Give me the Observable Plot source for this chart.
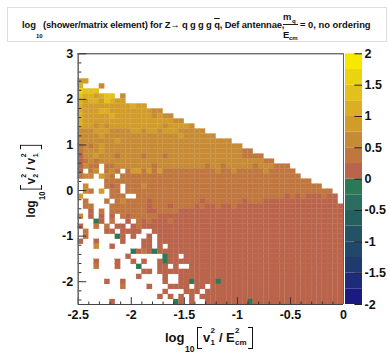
<!DOCTYPE html>
<html>
<head>
<meta charset="utf-8">
<script src="https://cdn.jsdelivr.net/npm/d3@7"></script>
<script src="https://cdn.jsdelivr.net/npm/@observablehq/plot@0.6"></script>
<style>
html,body{margin:0;padding:0;background:#fff}
#root{position:relative;width:390px;height:358px;overflow:hidden;font-family:"Liberation Sans",Arial,sans-serif;font-weight:bold;color:#111}
#root>div.plot{position:absolute;left:0;top:0}
.t{position:absolute;white-space:nowrap;line-height:1}
svg text{font-family:"Liberation Sans",Arial,sans-serif;font-weight:bold}
</style>
</head>
<body>
<div id="root"></div>
<script>
// log10(shower/matrix element): one string per y bin, top to bottom, 50 x bins
// '.' empty, 'g' = -0.25..0, '0'..'7' = the eight colour bands from 0 to 2
const rows = [
 "", "", "", "", "",
 "33",
 "4...2",
 "6555",
 "5443455.2",
 "434435433",
 "4333333333 433",
 "4333443333 333322",
 "4333334333 33332322",
 "4333333333 3333333322",
 "4332323333 3333332333 32",
 "2223332222 3323323332 2222",
 "2222322222 2222222223 222222",
 "2222222322 2222222222 222222222",
 "1212322222 2222222222 2222222222 2",
 "1222322222 2222222222 2222222222 211",
 "0223222122 2212221222 2222222222 21111",
 "0121222222 2222222222 2222222222 2222211",
 "0211.11222 2222122222 2222122122 2221222111",
 "0.12.121.1 3313131111 1111112112 1111121111 1",
 "122.321.11 1111111111 1111111111 1111111111 11",
 ".....11111 1111111111 1111111111 1111111111 1111",
 ".2...101.1 1121111111 1111111111 1111111111 111111",
 ".21.3.11.1 1111111111 1111111111 1111111111 11111111",
 "3.....111. .111111111 1111111111 1111111110 101000100",
 ".1...1.121 1110111111 1110111111 1011100000 000000000",
 ".11...1111 1110111011 1101001001 0000000000 0000000000",
 "..0.1.1111 1110011110 0000000000 0000000000 0000000000",
 "2.0.0.0.10 1111100000 0000000000 0000000000 0000000000",
 "...g0.1..0 .101000100 0000000000 0000000000 0000000000",
 "0..1.1.00. 0100000000 0000000000 0000000000 0000000000",
 ".1...00.00 00..000000 0000000000 0000000000 0000000000",
 ".1.....g0. 0..0.00000 0000000000 0000000000 0000000000",
 "0..0....0. ..00.00000 0000000000 0000000000 0000000000",
 "...2..0... ..00.0.000 0000000000 0000000000 0000000000",
 ".......... g010g00000 0000000000 0000000000 0000000000",
 ".........0 ......g00. 0000000000 0000000000 0000000000",
 "...0...0.. 0.0..0g000 0000000000 0000000000 0000000000",
 "...1...0.. .g...00.0. .000000000 0000000000 0000000000",
 ".......... ..00.00000 0000000000 0000000000 0000000000",
 ".......... .0....0..0 0000000000 0000000000 0000000000",
 ".....0..0. ......0..0 0g0000g000 0000000000 0000000000",
 "........1. ...0...000 0.00.00000 0000000000 0000000000",
 ".......... ......0... 000.000000 0000000000 0000000000",
 ".......... .....0.0.0 .0.0000000 0000000000 0000000000",
 "......0... ........g0 .0..000000 00g0000000 0000000000"
];
const nx = 50, ny = 50;
const xMin = -2.5, xMax = 0, yMin = -2.5, yMax = 3;
const bandEdges = [-2,-1.75,-1.5,-1.25,-1,-0.75,-0.5,-0.25,0,0.25,0.5,0.75,1,1.25,1.5,1.75,2];
const bandColors = ["#1B1A80","#1D2B78","#1E3A6E","#21486A","#235264","#265F60","#2B6D5E","#2B7A56",
                    "#BA644B","#C0763F","#C78B35","#D29C2B","#DBAE24","#E3C01B","#EBD40F","#F6E900"];
const xTicks = [-2.5,-2,-1.5,-1,-0.5,0];
const yTicks = [-2,-1,0,1,2,3];
const zTicks = [-2,-1.5,-1,-0.5,0,0.5,1,1.5,2];
const xMinor = d3.range(-25,1).map(d=>d/10).filter(d=>!xTicks.includes(d));
const yMinor = d3.range(-12,16).map(d=>d/5).filter(d=>!yTicks.includes(d));
const fmt = d => String(d);

const dx = (xMax-xMin)/nx, dy = (yMax-yMin)/ny;
const level = c => c === "g" ? -0.125 : (+c*0.25+0.125);
const cells = [];
rows.forEach((s,r)=>{
  [...s.replace(/ /g,"")].forEach((c,i)=>{
    if(c!==".") cells.push({x1:xMin+i*dx,x2:xMin+(i+1)*dx,y2:yMax-r*dy,y1:yMax-(r+1)*dy,v:level(c)});
  });
});
const color = {type:"threshold",domain:bandEdges.slice(1,-1),range:bandColors};

const main = Plot.plot({
  width:390,height:358,marginLeft:77.7,marginRight:47,marginTop:53.3,marginBottom:54,
  style:{background:"transparent",overflow:"visible"},
  x:{domain:[xMin,xMax],label:null},
  y:{domain:[yMin,yMax],label:null},
  color,
  marks:[
    Plot.rect(cells,{x1:"x1",x2:"x2",y1:"y1",y2:"y2",fill:"v",stroke:"v",strokeWidth:0.25}),
    Plot.ruleX(xMinor,{y1:yMin,y2:yMin+0.055,stroke:"#333",strokeWidth:1}),
    Plot.ruleX(xTicks,{y1:yMin,y2:yMin+0.15,stroke:"#333",strokeWidth:1}),
    Plot.ruleY(yMinor,{x1:xMin,x2:xMin+0.035,stroke:"#333",strokeWidth:1}),
    Plot.ruleY(yTicks,{x1:xMin,x2:xMin+0.08,stroke:"#333",strokeWidth:1}),
    Plot.ruleY([yMax],{stroke:"#333",strokeWidth:1}),
    Plot.ruleY([yMin],{stroke:"#444",strokeWidth:1}),
    Plot.ruleX([xMin],{stroke:"#666",strokeWidth:1.5}),
    Plot.ruleX([xMax],{stroke:"#9c4a48",strokeWidth:1}),
    Plot.axisX(xTicks,{tickSize:0,tickPadding:6,tickFormat:fmt,fontSize:12.5,fill:"#111",anchor:"bottom",label:null}),
    Plot.axisY(yTicks,{tickSize:0,tickPadding:5,tickFormat:fmt,fontSize:12.5,fill:"#111",anchor:"left",label:null})
  ]
});
const root = document.getElementById("root");
const pw = document.createElement("div"); pw.className="plot"; pw.appendChild(main); root.appendChild(pw);

const bands = bandColors.map((c,i)=>({y1:bandEdges[i],y2:bandEdges[i+1],v:(bandEdges[i]+bandEdges[i+1])/2}));
const bar = Plot.plot({
  width:45,height:358,marginLeft:0,marginRight:28,marginTop:53.3,marginBottom:54,
  style:{background:"transparent",overflow:"visible"},
  x:{domain:[0,1],axis:null},
  y:{domain:[-2,2],label:null},
  color,
  marks:[
    Plot.rect(bands,{x1:0,x2:1,y1:"y1",y2:"y2",fill:"v"}),
    Plot.ruleY(zTicks,{x1:0.55,x2:1,stroke:"#222",strokeWidth:1}),
    Plot.axisY(zTicks,{anchor:"right",tickSize:0,tickPadding:2,tickFormat:fmt,fontSize:12.5,fill:"#111",label:null})
  ]
});
const bw = document.createElement("div"); bw.className="plot"; bw.style.left="345px"; bw.appendChild(bar); root.appendChild(bw);

// Title box
root.insertAdjacentHTML("beforeend",`
<div style="position:absolute;left:7px;top:7px;width:380px;height:35px;border:1px solid #ddd;box-sizing:border-box;background:#fff"></div>
<span class="t" style="left:22px;top:20px;font-size:9.4px">log</span>
<span class="t" style="left:36px;top:33px;font-size:6px">10</span>
<span class="t" style="left:43px;top:20px;font-size:9.4px;letter-spacing:-0.14px">(shower/matrix element) for Z&#8594; q g g g <span style="text-decoration:overline">q</span>, Def antennae,</span>
<span class="t" style="left:283px;top:12px;font-size:9.4px">m</span>
<span class="t" style="left:292px;top:18px;font-size:6px">q</span>
<div style="position:absolute;left:283px;top:24px;width:15px;height:1px;background:#222"></div>
<span class="t" style="left:283px;top:30px;font-size:9.4px">E</span>
<span class="t" style="left:289px;top:35px;font-size:6px">cm</span>
<span class="t" style="left:300px;top:20px;font-size:9.4px">= 0, no ordering</span>
`);

// Axis titles: local coordinates measured from the start of "log" on its baseline
function axisTitle(sub, num, tf){
  const isE = num === "E";
  const w = document.createElement("div");
  w.style.cssText = "position:absolute;left:0;top:0;transform-origin:0 0;transform:"+tf;
  w.innerHTML = `
  <span class="t" style="left:0;top:-11px;font-size:13px">log</span>
  <span class="t" style="left:20px;top:3px;font-size:8.5px">10</span>
  <div style="position:absolute;left:32px;top:-15px;width:4px;height:20px;border:1.2px solid #111;border-right:none"></div>
  <span class="t" style="left:38px;top:-11px;font-size:13px">v</span>
  <span class="t" style="left:45.5px;top:-15px;font-size:8px">2</span>
  <span class="t" style="left:45.5px;top:-3px;font-size:8px">${sub}</span>
  <span class="t" style="left:54px;top:-11px;font-size:13px">/</span>
  <span class="t" style="left:61px;top:-11px;font-size:13px">${num}</span>
  <span class="t" style="left:${isE?70:69}px;top:-15px;font-size:8px">2</span>
  <span class="t" style="left:${isE?70:69}px;top:-3px;font-size:8px">${isE?"cm":"1"}</span>
  <div style="position:absolute;left:${isE?82.5:78}px;top:-15px;width:4px;height:20px;border:1.2px solid #111;border-left:none"></div>`;
  root.appendChild(w);
}
axisTitle("1","E","translate(165px,342px)");
axisTitle("2","v","translate(35px,217.5px) rotate(-90deg) scale(.875,1)");
</script>
</body>
</html>
